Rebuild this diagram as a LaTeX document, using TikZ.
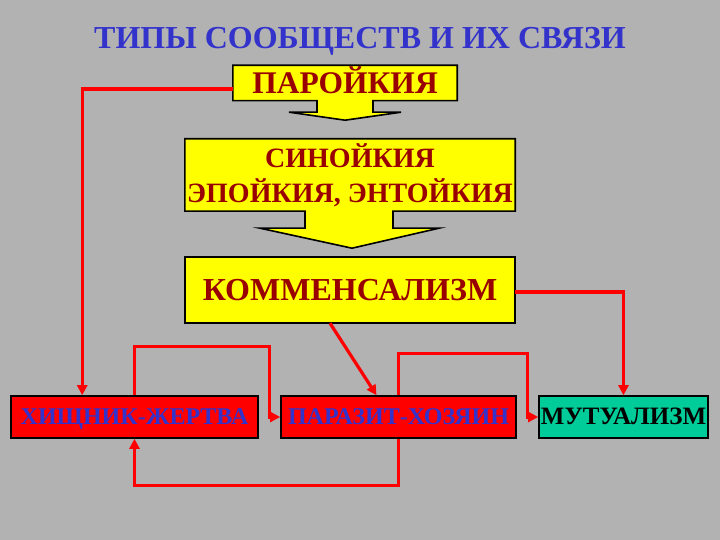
\documentclass[tikz,border=0pt]{standalone}
\usepackage{fontspec}
\setmainfont{Liberation Serif}
\usetikzlibrary{arrows.meta,backgrounds,calc,positioning}
\definecolor{slidegray}{RGB}{178,178,178}
\definecolor{titleblue}{RGB}{51,51,204}
\definecolor{boxyellow}{RGB}{255,255,0}
\definecolor{textred}{RGB}{153,0,0}
\definecolor{linkred}{RGB}{255,0,0}
\definecolor{mutgreen}{RGB}{0,204,153}
\tikzset{
  title/.style={font=\bfseries\fontsize{32}{34}\selectfont,text=titleblue},
  yelbox/.style={align=center,inner sep=0pt,text=textred},
  yelshape/.style={fill=boxyellow,draw=black,line width=1.6pt},
  redbox/.style={draw=black,line width=1.6pt,fill=linkred,minimum height=42pt,
    inner sep=0pt,text height=15pt,text depth=0pt,text=titleblue,
    font=\bfseries\fontsize{24}{26}\selectfont},
  mutbox/.style={redbox,fill=mutgreen,text=black},
  link/.style={-{Triangle[length=10pt,width=10pt]},line width=3.2pt,draw=linkred}
}

\begin{document}
\begin{tikzpicture}[x=1pt,y=1pt]
  \begin{scope}[on background layer]
    \fill[slidegray] (0,0) rectangle (720,540);
  \end{scope}
  \node[title] (head) at (360,499) {ТИПЫ СООБЩЕСТВ И ИХ СВЯЗИ};

  % yellow boxes with arrows below
  \node[yelbox,minimum width=224pt,minimum height=35pt,text height=21pt,text depth=0pt,
    font=\bfseries\fontsize{31.5}{33}\selectfont] (parb) at (345,457) {ПАРОЙКИЯ};
  \node[yelbox,minimum width=330pt,minimum height=72pt,
    font=\bfseries\fontsize{28}{35}\selectfont] (sinb) at (350,365)
    {СИНОЙКИЯ\\ЭПОЙКИЯ, ЭНТОЙКИЯ};
  \node[yelbox,minimum width=330pt,minimum height=66pt,text height=21pt,text depth=0pt,
    font=\bfseries\fontsize{32}{34}\selectfont] (komb) at (350,250) {КОММЕНСАЛИЗМ};
  \begin{scope}[on background layer]
    \draw[yelshape] (parb.south west) -- (parb.north west) -- (parb.north east)
      -- (parb.south east) -- ($(parb.south)+(28,0)$) -- ($(parb.south)+(28,-11.5)$)
      -- ($(parb.south)+(56,-11.5)$) -- ($(parb.south)+(0,-19.5)$)
      -- ($(parb.south)+(-56,-11.5)$) -- ($(parb.south)+(-28,-11.5)$)
      -- ($(parb.south)+(-28,0)$) -- cycle;
    \draw[yelshape] (sinb.south west) -- (sinb.north west) -- (sinb.north east)
      -- (sinb.south east) -- ($(sinb.south)+(43,0)$) -- ($(sinb.south)+(43,-17)$)
      -- ($(sinb.south)+(89,-17)$) -- ($(sinb.south)+(2,-37)$)
      -- ($(sinb.south)+(-90,-17)$) -- ($(sinb.south)+(-45,-17)$)
      -- ($(sinb.south)+(-45,0)$) -- cycle;
    \draw[yelshape] (komb.south west) rectangle (komb.north east);
  \end{scope}

  % bottom row
  \node[redbox,minimum width=247pt] (hish) at (134.5,123) {ХИЩНИК-ЖЕРТВА};
  \node[redbox,minimum width=235pt] (paraz) at (398.5,123) {ПАРАЗИТ-ХОЗЯИН};
  \node[mutbox,minimum width=169pt,font=\bfseries\fontsize{25}{27}\selectfont] (mutu)
    at (623.5,123) {МУТУАЛИЗМ};

  % links
  \draw[link] ([yshift=-6pt]parb.west) -| ([xshift=72pt]hish.north west);
  \draw[link] ([yshift=-2pt]komb.east) -| (mutu.north);
  \draw[link] ([xshift=-20pt]komb.south) -- ([xshift=-22pt]paraz.north);
  \draw[link] (hish.north) -- ++(0,49) -| ([xshift=-11pt]paraz.west) -- (paraz.west);
  \draw[link] (paraz.north) -- ++(0,42) -| ([xshift=-11pt]mutu.west) -- (mutu.west);
  \draw[link] (paraz.south) -- ++(0,-47) -| (hish.south);
\end{tikzpicture}
\end{document}
